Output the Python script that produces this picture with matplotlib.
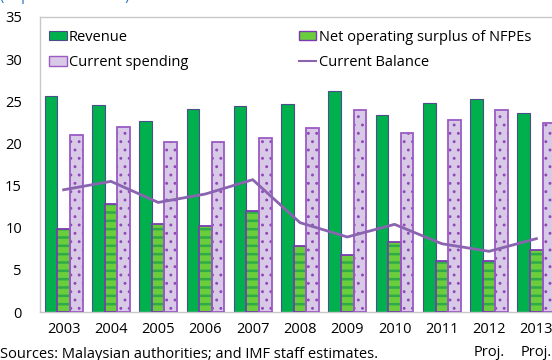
import matplotlib
matplotlib.use("Agg")
import matplotlib.pyplot as plt
from matplotlib.patches import Patch
from matplotlib.lines import Line2D
import numpy as np

plt.rcParams['font.family'] = ['Open Sans', 'DejaVu Sans']
plt.rcParams['hatch.linewidth'] = 1.8

years = ["2003", "2004", "2005", "2006", "2007", "2008", "2009", "2010", "2011", "2012\nProj.", "2013\nProj."]
revenue = [25.6, 24.6, 22.7, 24.1, 24.4, 24.7, 26.2, 23.4, 24.8, 25.3, 23.6]
net_surplus = [9.9, 12.8, 10.5, 10.2, 12.0, 7.8, 6.8, 8.3, 6.1, 6.0, 7.4]
spending = [21.0, 21.9, 20.2, 20.2, 20.6, 21.8, 24.0, 21.2, 22.8, 24.0, 22.4]
balance = [14.5, 15.5, 13.0, 14.0, 15.7, 10.6, 8.9, 10.4, 8.1, 7.2, 8.7]
yticks = [0, 5, 10, 15, 20, 25, 30, 35]

W, H = 552, 360
fig = plt.figure(figsize=(W / 100, H / 100), dpi=100)
ax = fig.add_axes([40 / W, 48 / H, 520 / W, 295 / H])

x = np.arange(len(years))
bw = 0.267
c_rev = "#00B04C"
c_rev_edge = "#4A4F8C"
c_net = "#6ACD3C"
c_net_hatch = "#2EAA48"
c_net_edge = "#7A3CB0"
c_sp = "#D8CAE6"
c_sp_hatch = "#9048B8"
c_sp_edge = "#9B5BC4"
c_line = "#8A64B0"

ax.bar(x - bw, revenue, bw, color=c_rev, edgecolor=c_rev_edge, linewidth=0.8, zorder=2)
ax.bar(x, net_surplus, bw, color=c_net, edgecolor=c_net_hatch, hatch="--", linewidth=0, zorder=2)
ax.bar(x, net_surplus, bw, fill=False, edgecolor=c_net_edge, linewidth=1.3, zorder=3)
plt.rcParams['hatch.linewidth'] = 0.9
sp_bars = ax.bar(x + bw, spending, bw, color=c_sp, edgecolor=c_sp_hatch, hatch="..", linewidth=0, zorder=2)
for p in sp_bars:
    if hasattr(p, "set_hatch_linewidth"):
        p.set_hatch_linewidth(0.9)
ax.bar(x + bw, spending, bw, fill=False, edgecolor=c_sp_edge, linewidth=1.3, zorder=3)
ax.plot(x, balance, color=c_line, linewidth=2, zorder=4)

ax.set_xlim(-0.5, len(years) - 0.5)
ax.set_ylim(0, 35)
ax.set_yticks(yticks)
ax.set_xticks(x)
ax.set_xticklabels(years, fontsize=10.5, linespacing=1.75, va="top")
ax.tick_params(axis="both", length=0, labelsize=10.5)
ax.tick_params(axis="y", pad=13)
ax.tick_params(axis="x", pad=7)
for s in ax.spines.values():
    s.set_color("#C8C8C8")
    s.set_linewidth(1)

handles = [
    Patch(facecolor=c_rev, edgecolor=c_rev_edge, linewidth=0.8),
    Patch(facecolor=c_sp, edgecolor=c_sp_edge, linewidth=1),
    Patch(facecolor=c_net, edgecolor=c_net_edge, linewidth=1),
    Line2D([0], [0], color=c_line, linewidth=1.5),
]
labels = ["Revenue", "Current spending", "Net operating surplus of NFPEs", "Current Balance"]
fig.legend(handles, labels, ncol=2, loc="upper left",
           bbox_to_anchor=(49 / W, 1 - 30 / H), frameon=False, fontsize=10.5,
           handlelength=1.2, handleheight=0.6, handletextpad=0.15,
           columnspacing=7.6, labelspacing=0.7, borderpad=0, borderaxespad=0)

fig.text(0, 1.0, "(In percent of GDP)", color="#2E75B6", fontsize=10.5, va="baseline", ha="left")
fig.text(0, 1 - 354 / H, "Sources: Malaysian authorities; and IMF staff estimates.",
         fontsize=10.5, va="center", ha="left")

fig.savefig("out.png", dpi=100)
